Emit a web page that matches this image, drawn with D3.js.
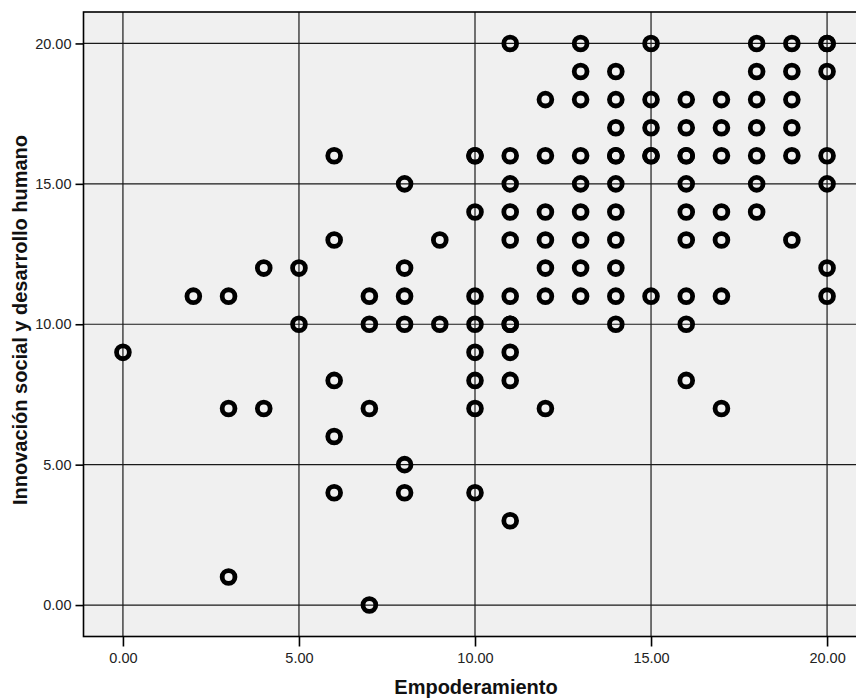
<!DOCTYPE html>
<html>
<head>
<meta charset="utf-8">
<script src="https://cdn.jsdelivr.net/npm/d3@7"></script>
<style>
  body { margin: 0; background: #fff; }
  svg { display: block; font-family: "Liberation Sans", Arial, sans-serif; }
</style>
</head>
<body>
<svg id="chart" width="856" height="699"></svg>
<script>
// Empoderamiento (x) / Innovación social y desarrollo humano (y)
const empoderamiento = [
  0, 2, 3, 3, 3, 4, 4, 5, 5, 6, 6, 6, 6, 6, 7, 7, 7, 7, 8, 8, 8, 8, 8, 8,
  9, 9, 10, 10, 10, 10, 10, 10, 10, 10, 10,
  11, 11, 11, 11, 11, 11, 11, 11, 11, 11, 11,
  12, 12, 12, 12, 12, 12, 12,
  13, 13, 13, 13, 13, 13, 13, 13, 13,
  14, 14, 14, 14, 14, 14, 14, 14, 14, 14, 14,
  15, 15, 15, 15, 15, 15,
  16, 16, 16, 16, 16, 16, 16, 16, 16, 16,
  17, 17, 17, 17, 17, 17, 17,
  18, 18, 18, 18, 18, 18, 18,
  19, 19, 19, 19, 19, 19,
  20, 20, 20, 20, 20, 20, 20
];
const innovacion = [
  9, 11, 11, 7, 1, 12, 7, 12, 10, 16, 13, 8, 6, 4, 11, 10, 7, 0, 15, 12, 11, 10, 5, 4,
  13, 10, 16, 14, 11, 10, 9, 8, 7, 4, 16,
  20, 16, 15, 14, 13, 11, 10, 9, 8, 3, 10,
  18, 16, 14, 13, 12, 11, 7,
  20, 19, 18, 16, 15, 14, 13, 12, 11,
  19, 18, 17, 16, 15, 14, 13, 12, 11, 10, 16,
  20, 18, 17, 16, 11, 16,
  18, 17, 16, 15, 14, 13, 11, 10, 8, 16,
  18, 17, 16, 14, 13, 11, 7,
  20, 19, 18, 17, 16, 15, 14,
  20, 19, 18, 17, 16, 13,
  20, 19, 16, 15, 12, 11, 20
];
const tickValues = [0, 5, 10, 15, 20];

const points = empoderamiento.map((d, i) => ({ x: d, y: innovacion[i] }));

const svg = d3.select('#chart');
const plotLeft = 83.5, plotRight = 866.5, plotTop = 12, plotBottom = 636.5;

const x = d3.scaleLinear().domain([-1.12, 21.12]).range([plotLeft, plotRight]);
const y = d3.scaleLinear().domain([-1.12, 21.12]).range([plotBottom, plotTop]);

// plot background
svg.append('rect')
  .attr('x', plotLeft).attr('y', plotTop)
  .attr('width', plotRight - plotLeft).attr('height', plotBottom - plotTop)
  .attr('fill', '#f0f0f0');

// grid lines
svg.append('g')
  .selectAll('line')
  .data(tickValues)
  .enter().append('line')
  .attr('x1', d => x(d)).attr('x2', d => x(d))
  .attr('y1', plotTop).attr('y2', plotBottom)
  .attr('stroke', '#1a1a1a').attr('stroke-width', 1.2);

svg.append('g')
  .selectAll('line')
  .data(tickValues)
  .enter().append('line')
  .attr('y1', d => y(d)).attr('y2', d => y(d))
  .attr('x1', plotLeft).attr('x2', plotRight)
  .attr('stroke', '#1a1a1a').attr('stroke-width', 1.2);

// axes
const xAxis = svg.append('g')
  .attr('transform', `translate(0,${plotBottom})`)
  .call(d3.axisBottom(x).tickValues(tickValues).tickFormat(d3.format('.2f')).tickSize(10).tickSizeOuter(0).tickPadding(6));
const yAxis = svg.append('g')
  .attr('transform', `translate(${plotLeft},0)`)
  .call(d3.axisLeft(y).tickValues(tickValues).tickFormat(d3.format('.2f')).tickSize(8).tickSizeOuter(0).tickPadding(4));

[xAxis, yAxis].forEach(g => {
  g.select('.domain').remove();
  g.selectAll('line').attr('stroke', '#000').attr('stroke-width', 1.6);
  g.selectAll('text')
    .attr('fill', '#222')
    .style('font-size', '14.5px')
    .style('font-family', '"Liberation Sans", Arial, sans-serif');
});

// frame
svg.append('rect')
  .attr('x', plotLeft).attr('y', plotTop)
  .attr('width', plotRight - plotLeft).attr('height', plotBottom - plotTop)
  .attr('fill', 'none')
  .attr('stroke', '#000').attr('stroke-width', 1.6);

// points
svg.append('g')
  .selectAll('circle')
  .data(points)
  .enter().append('circle')
  .attr('cx', d => x(d.x))
  .attr('cy', d => y(d.y))
  .attr('r', 6.4)
  .attr('fill', 'none')
  .attr('stroke', '#000')
  .attr('stroke-width', 4.8);

// axis titles
svg.append('text')
  .attr('x', 476).attr('y', 694)
  .attr('text-anchor', 'middle')
  .style('font-size', '20px').style('font-weight', 'bold')
  .attr('fill', '#111')
  .text('Empoderamiento');

svg.append('text')
  .attr('transform', 'translate(27,320) rotate(-90)')
  .attr('text-anchor', 'middle')
  .style('font-size', '20px').style('font-weight', 'bold')
  .attr('fill', '#111')
  .text('Innovación social y desarrollo humano');
</script>
</body>
</html>
